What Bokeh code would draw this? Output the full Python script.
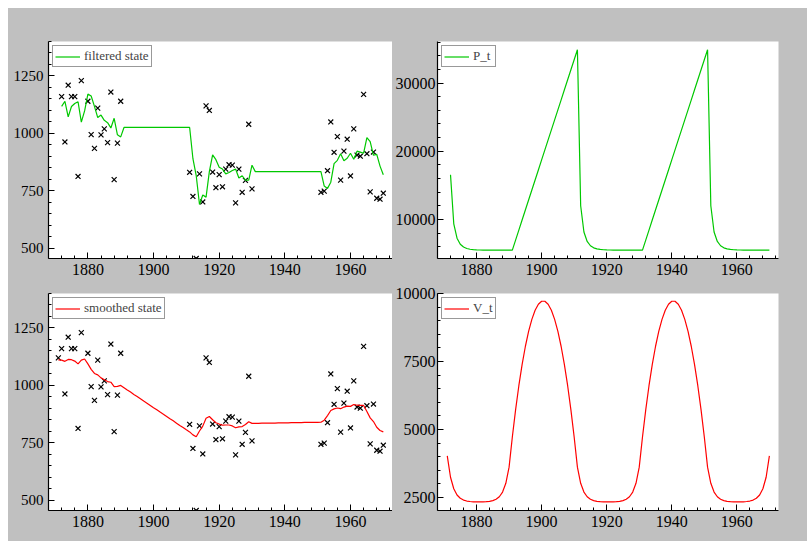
from bokeh.plotting import figure
from bokeh.layouts import row, column
from bokeh.models import Range1d, SingleIntervalTicker
from bokeh.embed import file_html
from bokeh.resources import INLINE

years = list(range(1871, 1971))
# observed Nile flow (None = missing)
flow = [1120,1160,963,1210,1160,1160,813,1230,1370,1140,995,935,1110,994,1020,960,1180,799,958,1140,
        None,None,None,None,None,None,None,None,None,None,None,None,None,None,None,None,None,None,None,None,
        831,726,456,824,702,1120,1100,832,764,821,768,845,864,862,698,845,744,796,1040,759,
        None,None,None,None,None,None,None,None,None,None,None,None,None,None,None,None,None,None,None,None,
        744,749,838,1050,918,986,797,923,975,815,1020,906,901,1170,912,746,919,718,714,740]
# filtered state, 1872..1970
filtered = [1118,1140,1072,1117,1130,1138,1049,1098,1171,1163,1118,1069,1080,1057,1047,1024,1066,994,985,
            1026,1026,1026,1026,1026,1026,1026,1026,1026,1026,1026,1026,1026,1026,1026,1026,1026,1026,1026,1026,1026,
            890,817,691,732,723,834,907,886,853,845,824,830,839,845,806,816,797,797,862,834,
            834,834,834,834,834,834,834,834,834,834,834,834,834,834,834,834,834,834,834,834,
            771,761,788,869,883,912,881,892,914,888,923,919,914,982,964,905,909,858,820]
# filtered state variance, 1872..1970
p_t = [16545,9364,7249,6367,5947,5736,5626,5568,5537,5520,5512,5507,5504,5503,5502,5501,5501,5501,5501,5501,
       6970,8440,9909,11378,12847,14316,15785,17254,18723,20192,21661,23130,24600,26069,27538,29007,30476,31945,33414,34883,
       12007,8157,6765,6141,5835,5678,5596,5552,5528,5516,5509,5505,5503,5502,5501,5501,5501,5501,5501,5501,
       6970,8440,9909,11378,12847,14316,15785,17254,18723,20192,21661,23130,24600,26069,27538,29007,30476,31945,33414,34883,
       12007,8157,6765,6141,5835,5678,5596,5552,5528,5516,5509,5505,5503,5502,5501,5501,5501,5501,5501]
# smoothed state, 1871..1970
smoothed = [1111,1110,1105,1113,1112,1106,1094,1110,1115,1094,1070,1052,1046,1033,1025,1017,1014,995,996,1000,
            990,980,971,961,952,942,932,923,913,903,894,884,875,865,855,846,836,826,817,807,
            798,785,777,802,823,857,865,851,838,832,827,828,828,824,816,820,821,830,842,835,
            835,835,836,836,836,836,836,837,837,837,837,838,838,838,838,839,839,839,839,839,
            840,849,869,891,898,902,899,906,910,909,917,914,913,913,887,859,843,818,804,798]
# smoothed state variance, 1871..1970
v_t = [4031,3242,2819,2591,2469,2403,2368,2350,2340,2336,2335,2338,2344,2358,2385,2434,2526,2698,3019,3614,
       4724,5722,6609,7386,8051,8606,9049,9382,9604,9715,9715,9604,9382,9049,8606,8051,7386,6609,5722,4724,
       3614,3019,2698,2526,2434,2385,2358,2344,2337,2334,2334,2337,2344,2358,2385,2434,2526,2698,3019,3614,
       4724,5722,6609,7386,8051,8606,9049,9382,9604,9715,9715,9604,9382,9049,8606,8051,7386,6609,5722,4724,
       3614,3019,2698,2526,2434,2385,2358,2344,2338,2335,2336,2340,2350,2368,2403,2469,2591,2819,3243,4032]

GRAY = "#c0c0c0"
GREEN = "#00c800"
RED = "#ff0000"
FONT = "Liberation Serif"

def mk(w, h, bl, br, bt, bb, yr, yint, ysize, ystand):
    p = figure(width=w, height=h, output_backend="svg", toolbar_location=None,
               x_range=Range1d(1868, 1972.8), y_range=Range1d(*yr),
               min_border_left=bl, min_border_right=br, min_border_top=bt, min_border_bottom=bb)
    p.border_fill_color = GRAY
    p.background_fill_color = "white"
    p.outline_line_color = None
    p.grid.visible = False
    p.xaxis.ticker = SingleIntervalTicker(interval=20, num_minor_ticks=5)
    p.yaxis.ticker = SingleIntervalTicker(interval=yint, num_minor_ticks=5)
    for ax in (p.xaxis[0], p.yaxis[0]):
        ax.major_tick_in = 6; ax.major_tick_out = 0
        ax.minor_tick_in = 3; ax.minor_tick_out = 0
        ax.major_tick_line_color = "black"; ax.minor_tick_line_color = "black"
        ax.major_label_text_font = FONT
        ax.major_label_text_color = "black"
        ax.axis_line_color = "black"
        ax.axis_line_width = 1.2
    p.xaxis.major_label_text_font_size = "16px"
    p.yaxis.major_label_text_font_size = ysize
    p.xaxis.major_label_standoff = 5
    p.yaxis.major_label_standoff = ystand
    return p

f1 = mk(384, 275, 40, 0, 33, 25, (456, 1400), 250, "15px", 5)
f2 = mk(415, 275, 42, 29, 33, 25, (4270, 36090), 10000, "16px", 2)
f3 = mk(384, 258, 40, 0, 10, 31, (456, 1400), 250, "15px", 5)
f4 = mk(415, 258, 42, 29, 10, 31, (2020, 10000), 2500, "16px", 2)

obs_x = [y for y, v in zip(years, flow) if v is not None]
obs_y = [v for v in flow if v is not None]

f1.scatter(obs_x[1:], obs_y[1:], marker="x", size=7, color="black", line_width=1.2)
f1.line(years[1:], filtered, color=GREEN, line_width=1.2, legend_label="filtered state")
f2.line(years[1:], p_t, color=GREEN, line_width=1.2, legend_label="P_t")
f3.scatter(obs_x, obs_y, marker="x", size=7, color="black", line_width=1.2)
f3.line(years, smoothed, color=RED, line_width=1.2, legend_label="smoothed state")
f4.line(years, v_t, color=RED, line_width=1.2, legend_label="V_t")

for p in (f1, f2, f3, f4):
    lg = p.legend[0]
    lg.location = "top_left"; lg.margin = 4; lg.padding = 2; lg.spacing = 0
    lg.label_text_font = FONT; lg.label_text_font_size = "13px"
    lg.glyph_width = 25; lg.glyph_height = 13; lg.label_standoff = 4
    lg.label_height = 13
    lg.border_line_color = "#333333"; lg.border_line_width = 1.5
    lg.background_fill_alpha = 1

layout = column(row(f1, f2, spacing=0), row(f3, f4, spacing=0), spacing=0,
                margin=(8, 0, 0, 8), styles={"background-color": GRAY})
open("out.html", "w").write(file_html(layout, INLINE))
